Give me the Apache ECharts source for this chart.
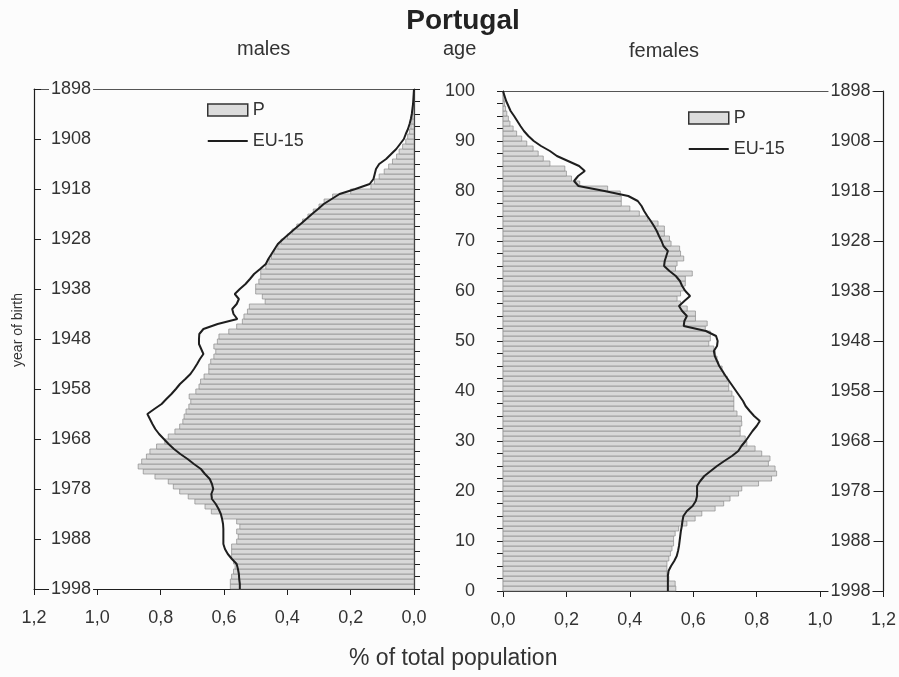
<!DOCTYPE html>
<html>
<head>
<meta charset="utf-8">
<title>Portugal</title>
<script src="https://cdn.jsdelivr.net/npm/echarts@6/dist/echarts.min.js"></script>
<style>
  html, body { margin: 0; padding: 0; background: #fcfcfc; }
  #chart { width: 899px; height: 677px; }
</style>
</head>
<body>
<div id="chart"></div>
<script>
// Single-year age groups 0..99, share of total population (%)
const malesP = [
  0.580, 0.580, 0.576, 0.570, 0.565, 0.570, 0.576, 0.576, 0.576, 0.560,
  0.555, 0.560, 0.550, 0.560, 0.608, 0.640, 0.660, 0.692, 0.713, 0.740,
  0.760, 0.776, 0.818, 0.855, 0.871, 0.860, 0.845, 0.834, 0.813, 0.787,
  0.776, 0.755, 0.740, 0.730, 0.726, 0.720, 0.711, 0.705, 0.710, 0.689,
  0.679, 0.674, 0.663, 0.648, 0.648, 0.642, 0.632, 0.626, 0.632, 0.621,
  0.616, 0.585, 0.560, 0.542, 0.537, 0.526, 0.520, 0.470, 0.479, 0.500,
  0.500, 0.490, 0.484, 0.484, 0.468, 0.458, 0.450, 0.442, 0.430, 0.420,
  0.400, 0.385, 0.370, 0.352, 0.335, 0.318, 0.300, 0.284, 0.257, 0.200,
  0.136, 0.125, 0.110, 0.094, 0.080, 0.068, 0.055, 0.047, 0.036, 0.026,
  0.020, 0.014, 0.010, 0.007, 0.005, 0.003, 0.002, 0.001, 0.001, 0.000
];
const femalesP = [
  0.545, 0.543, 0.523, 0.517, 0.517, 0.517, 0.523, 0.528, 0.533, 0.538,
  0.538, 0.543, 0.554, 0.580, 0.606, 0.627, 0.669, 0.696, 0.716, 0.743,
  0.753, 0.806, 0.847, 0.863, 0.858, 0.837, 0.842, 0.816, 0.795, 0.769,
  0.764, 0.748, 0.748, 0.753, 0.752, 0.738, 0.728, 0.728, 0.728, 0.722,
  0.712, 0.712, 0.707, 0.696, 0.691, 0.680, 0.675, 0.670, 0.665, 0.649,
  0.654, 0.654, 0.638, 0.644, 0.607, 0.607, 0.581, 0.560, 0.549, 0.560,
  0.570, 0.575, 0.575, 0.597, 0.544, 0.549, 0.570, 0.560, 0.557, 0.530,
  0.525, 0.509, 0.509, 0.489, 0.457, 0.430, 0.400, 0.373, 0.373, 0.370,
  0.330, 0.242, 0.216, 0.200, 0.195, 0.148, 0.127, 0.111, 0.095, 0.075,
  0.059, 0.043, 0.032, 0.022, 0.017, 0.012, 0.008, 0.005, 0.003, 0.001
];
// EU-15 reference profile at exact ages 0..100
const malesEU = [
  0.550, 0.550, 0.552, 0.553, 0.556, 0.560, 0.575, 0.588, 0.597, 0.602,
  0.602, 0.602, 0.602, 0.603, 0.606, 0.610, 0.617, 0.626, 0.638, 0.640,
  0.634, 0.638, 0.645, 0.660, 0.673, 0.695, 0.715, 0.738, 0.758, 0.775,
  0.790, 0.805, 0.817, 0.826, 0.834, 0.842, 0.820, 0.797, 0.782, 0.766,
  0.752, 0.739, 0.722, 0.706, 0.695, 0.685, 0.676, 0.665, 0.672, 0.679,
  0.679, 0.678, 0.665, 0.620, 0.558, 0.570, 0.574, 0.560, 0.553, 0.566,
  0.550, 0.532, 0.518, 0.505, 0.486, 0.468, 0.460, 0.450, 0.440, 0.430,
  0.413, 0.395, 0.377, 0.358, 0.340, 0.322, 0.303, 0.285, 0.260, 0.235,
  0.185, 0.140, 0.128, 0.124, 0.120, 0.110, 0.088, 0.072, 0.056, 0.044,
  0.032, 0.026, 0.019, 0.014, 0.010, 0.007, 0.005, 0.003, 0.002, 0.001,
  0.000
];
const femalesEU = [
  0.520, 0.520, 0.520, 0.520, 0.522, 0.530, 0.540, 0.548, 0.552, 0.555,
  0.557, 0.559, 0.561, 0.564, 0.566, 0.569, 0.580, 0.598, 0.608, 0.612,
  0.612, 0.612, 0.622, 0.635, 0.655, 0.675, 0.698, 0.722, 0.742, 0.752,
  0.765, 0.776, 0.787, 0.800, 0.810, 0.792, 0.778, 0.765, 0.757, 0.746,
  0.735, 0.724, 0.713, 0.702, 0.692, 0.682, 0.675, 0.668, 0.665, 0.675,
  0.677, 0.672, 0.640, 0.570, 0.572, 0.580, 0.565, 0.555, 0.572, 0.590,
  0.575, 0.565, 0.558, 0.545, 0.525, 0.508, 0.510, 0.515, 0.520, 0.506,
  0.500, 0.492, 0.485, 0.476, 0.466, 0.455, 0.445, 0.437, 0.425, 0.395,
  0.320, 0.238, 0.224, 0.237, 0.258, 0.240, 0.205, 0.170, 0.148, 0.120,
  0.097, 0.080, 0.066, 0.055, 0.045, 0.035, 0.024, 0.017, 0.010, 0.005,
  0.000
];
const censusYear = 1998;          // year of birth = censusYear - age
const ageRange = [0, 100];
const shareRange = [0, 1.2];

const TEXT = '#333';
const LINE = '#1e1e1e';
const BG = '#fcfcfc';
const FONT = 'Liberation Sans, Arial, sans-serif';

const barData = arr => arr.map((v, age) => [v, age]);
const lineData = arr => arr.map((v, age) => [v, age]);
const commaFmt = v => v.toFixed(1).replace('.', ',');

function renderBar(params, api) {
  const v = api.value(0), age = api.value(1);
  const p0 = api.coord([0, age]);
  const p1 = api.coord([v, age + 1]);
  const x = Math.min(p0[0], p1[0]);
  const y = Math.min(p0[1], p1[1]);
  return {
    type: 'rect',
    shape: { x: x, y: y, width: Math.abs(p1[0] - p0[0]), height: Math.abs(p1[1] - p0[1]) },
    style: { fill: '#d8d8d8', stroke: '#8c8c8c', lineWidth: 0.7 }
  };
}

function shareAxis(grid, inverse) {
  return {
    type: 'value', gridIndex: grid, position: 'bottom', inverse: inverse,
    min: shareRange[0], max: shareRange[1], interval: 0.2,
    axisLine: { show: true, onZero: false, lineStyle: { color: LINE, width: 1.2 } },
    axisTick: { show: true, length: 6, lineStyle: { color: LINE } },
    axisLabel: { formatter: commaFmt, color: TEXT, fontSize: 18, fontFamily: FONT, margin: 20,
                 showMinLabel: true, showMaxLabel: true },
    splitLine: { show: false }
  };
}
function topBorder(grid) {
  return {
    type: 'value', gridIndex: grid, position: 'top', min: 0, max: 1,
    axisLine: { show: true, onZero: false, lineStyle: { color: '#555', width: 1 } },
    axisTick: { show: false }, axisLabel: { show: false }, splitLine: { show: false }
  };
}
function yearAxis(grid, pos, margin, tickLen) {
  return {
    type: 'value', gridIndex: grid, position: pos,
    min: ageRange[0], max: ageRange[1], interval: 10,
    axisLine: { show: true, onZero: false, lineStyle: { color: LINE, width: 1.2 } },
    axisTick: { show: true, inside: true, length: tickLen, lineStyle: { color: LINE } },
    axisLabel: { inside: true, formatter: v => String(censusYear - v), color: TEXT,
                 fontSize: 18, fontFamily: FONT, margin: margin,
                 backgroundColor: BG, padding: [0, 2] },
    splitLine: { show: false }
  };
}
function ageAxis(grid, pos, showLabels) {
  return {
    type: 'value', gridIndex: grid, position: pos,
    min: ageRange[0], max: ageRange[1], interval: 10,
    axisLine: { show: true, onZero: false, lineStyle: { color: LINE, width: 1.2 } },
    axisTick: { show: true, length: 6, lineStyle: { color: LINE } },
    minorTick: { show: true, splitNumber: 4, length: 6, lineStyle: { color: LINE } },
    axisLabel: { show: showLabels, color: TEXT, fontSize: 18, fontFamily: FONT, margin: 28 },
    splitLine: { show: false }
  };
}

const chart = echarts.init(document.getElementById('chart'), null, { renderer: 'canvas' });

// thin horizontal bar used as the legend icon for the EU-15 line
const lineIcon = 'path://M0,0H40V2H0Z';
const legendBase = {
  orient: 'vertical', itemWidth: 40, itemHeight: 12, itemGap: 13, padding: 0,
  textStyle: { color: TEXT, fontSize: 18, fontFamily: FONT },
  selectedMode: false,
  data: [
    { name: 'P', icon: 'rect', itemStyle: { color: '#dcdcdc', borderColor: '#333', borderWidth: 1.5 } },
    { name: 'EU-15', icon: lineIcon, itemStyle: { color: LINE, borderWidth: 0 } }
  ]
};

chart.setOption({
  backgroundColor: BG,
  animation: false,
  title: {
    text: 'Portugal', left: 458, top: 2, textAlign: 'center',
    textStyle: { fontSize: 28, fontWeight: 'bold', color: '#222', fontFamily: FONT }
  },
  legend: [
    Object.assign({}, legendBase, { left: 207, top: 101 }),
    Object.assign({}, legendBase, { left: 688, top: 109 })
  ],
  grid: [
    { left: 34, top: 89, width: 380, height: 500 },
    { left: 503, top: 91, width: 381, height: 500 }
  ],
  xAxis: [shareAxis(0, true), topBorder(0), shareAxis(1, false), topBorder(1)],
  yAxis: [yearAxis(0, 'left', 15, 7), ageAxis(0, 'right', false), ageAxis(1, 'left', true), yearAxis(1, 'right', 11, 10)],
  series: [
    { name: 'P', type: 'custom', xAxisIndex: 0, yAxisIndex: 0, renderItem: renderBar,
      itemStyle: { color: '#dcdcdc' }, data: barData(malesP), z: 2 },
    { name: 'EU-15', type: 'line', xAxisIndex: 0, yAxisIndex: 0, symbol: 'none',
      lineStyle: { color: LINE, width: 2 }, itemStyle: { color: LINE },
      data: lineData(malesEU), z: 3 },
    { name: 'P', type: 'custom', xAxisIndex: 2, yAxisIndex: 2, renderItem: renderBar,
      itemStyle: { color: '#dcdcdc' }, data: barData(femalesP), z: 2 },
    { name: 'EU-15', type: 'line', xAxisIndex: 2, yAxisIndex: 2, symbol: 'none',
      lineStyle: { color: LINE, width: 2 }, itemStyle: { color: LINE },
      data: lineData(femalesEU), z: 3 }
  ],
  graphic: [
    { type: 'text', left: 237, top: 39, style: { text: 'males', fill: TEXT, font: '20px ' + FONT } },
    { type: 'text', left: 443, top: 39, style: { text: 'age', fill: TEXT, font: '20px ' + FONT } },
    { type: 'text', left: 629, top: 41, style: { text: 'females', fill: TEXT, font: '20px ' + FONT } },
    { type: 'text', left: 349, top: 647, style: { text: '% of total population', fill: TEXT, font: '23px ' + FONT } },
    { type: 'text', left: 11, top: 293, rotation: Math.PI / 2,
      style: { text: 'year of birth', fill: TEXT, font: '14px ' + FONT } }
  ]
});
</script>
</body>
</html>
